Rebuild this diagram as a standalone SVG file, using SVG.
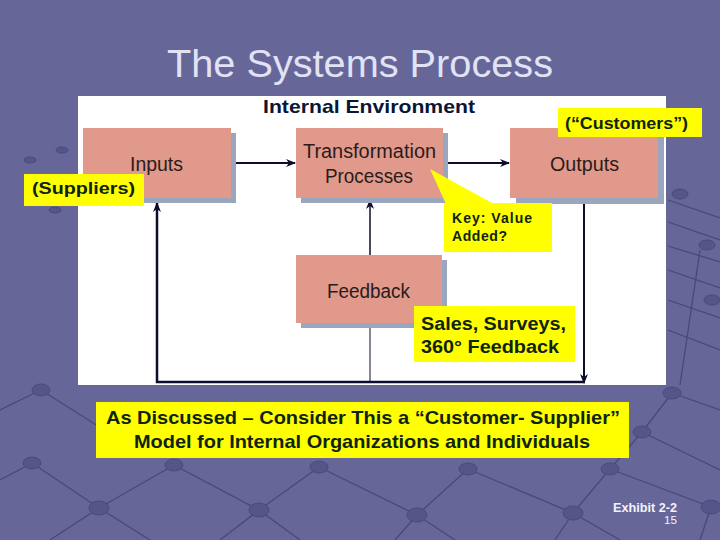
<svg xmlns="http://www.w3.org/2000/svg" width="720" height="540" viewBox="0 0 720 540">
<defs>
<style>
.bg{fill:#666699}
.deco line{stroke:#48487a;stroke-width:1.3}
.deco ellipse{fill:#55558a;stroke:#4a4a7c;stroke-width:1}
.shadow{fill:#9aa6bd}
.box{fill:#e0998b}
.btxt{font-family:"Liberation Sans Narrow","Liberation Sans",Arial,sans-serif;font-size:20px;fill:#2a1c1c;text-anchor:start}
.call{fill:#ffff00}
.ctxt{font-family:"Liberation Sans",Arial,sans-serif;font-weight:bold;fill:#0e2410}
.conn{stroke:#0c0c2c;fill:none}
</style>
<marker id="ah" viewBox="0 0 10 8" refX="9" refY="4" markerWidth="10" markerHeight="8" markerUnits="userSpaceOnUse" orient="auto">
<path d="M0,0 L10,4 L0,8 L3,4 z" fill="#0c0c2c"/>
</marker>
</defs>
<rect class="bg" x="0" y="0" width="720" height="540"/>
<g class="deco">
<line x1="0" y1="410" x2="41" y2="390"/>
<line x1="41" y1="390" x2="120" y2="440"/>
<line x1="0" y1="480" x2="32" y2="463"/>
<line x1="32" y1="463" x2="99" y2="508"/>
<line x1="99" y1="508" x2="174" y2="465"/>
<line x1="174" y1="465" x2="259" y2="510"/>
<line x1="259" y1="510" x2="319" y2="467"/>
<line x1="319" y1="467" x2="417" y2="515"/>
<line x1="417" y1="515" x2="468" y2="469"/>
<line x1="468" y1="469" x2="573" y2="513"/>
<line x1="573" y1="513" x2="610" y2="469"/>
<line x1="610" y1="469" x2="711" y2="507"/>
<line x1="99" y1="508" x2="50" y2="540"/>
<line x1="99" y1="508" x2="150" y2="540"/>
<line x1="259" y1="510" x2="220" y2="540"/>
<line x1="259" y1="510" x2="300" y2="540"/>
<line x1="417" y1="515" x2="395" y2="540"/>
<line x1="417" y1="515" x2="455" y2="540"/>
<line x1="573" y1="513" x2="555" y2="540"/>
<line x1="573" y1="513" x2="620" y2="540"/>
<line x1="711" y1="507" x2="700" y2="540"/>
<line x1="610" y1="469" x2="642" y2="432"/>
<line x1="642" y1="432" x2="720" y2="470"/>
<line x1="642" y1="432" x2="672" y2="393"/>
<line x1="672" y1="393" x2="720" y2="410"/>
<line x1="668" y1="200" x2="720" y2="218"/>
<line x1="668" y1="222" x2="720" y2="240"/>
<line x1="668" y1="246" x2="720" y2="262"/>
<line x1="668" y1="270" x2="720" y2="288"/>
<line x1="668" y1="300" x2="720" y2="318"/>
<line x1="668" y1="330" x2="720" y2="350"/>
<line x1="700" y1="250" x2="680" y2="385"/>
<ellipse cx="41" cy="390" rx="9" ry="6"/>
<ellipse cx="32" cy="463" rx="9" ry="6"/>
<ellipse cx="99" cy="508" rx="10" ry="7"/>
<ellipse cx="174" cy="465" rx="9" ry="6"/>
<ellipse cx="259" cy="510" rx="10" ry="7"/>
<ellipse cx="319" cy="467" rx="9" ry="6"/>
<ellipse cx="417" cy="515" rx="10" ry="7"/>
<ellipse cx="468" cy="469" rx="9" ry="6"/>
<ellipse cx="573" cy="513" rx="10" ry="7"/>
<ellipse cx="610" cy="469" rx="9" ry="6"/>
<ellipse cx="711" cy="507" rx="10" ry="7"/>
<ellipse cx="642" cy="432" rx="9" ry="6"/>
<ellipse cx="672" cy="393" rx="9" ry="6"/>
<ellipse cx="680" cy="194" rx="8" ry="5"/>
<ellipse cx="707" cy="245" rx="8" ry="5"/>
<ellipse cx="712" cy="300" rx="8" ry="5"/>
<ellipse cx="62" cy="150" rx="6" ry="3"/>
<ellipse cx="30" cy="160" rx="6" ry="3"/>
<ellipse cx="55" cy="210" rx="6" ry="3"/>
</g>
<text x="360" y="77" font-family="'Liberation Sans',Arial,sans-serif" font-size="38" fill="#e2e2f5" text-anchor="middle" textLength="386" lengthAdjust="spacingAndGlyphs">The Systems Process</text>
<rect x="78" y="96" width="588" height="289" fill="#ffffff"/>
<text x="263" y="113" font-family="'Liberation Sans Narrow','Liberation Sans',Arial,sans-serif" font-weight="bold" font-size="19" fill="#0a1634" textLength="212" lengthAdjust="spacingAndGlyphs">Internal Environment</text>
<g id="connectors">
<path class="conn" d="M231,163 H295" stroke-width="2" marker-end="url(#ah)"/>
<path class="conn" d="M443,163 H509" stroke-width="2" marker-end="url(#ah)"/>
<path class="conn" d="M584,198 V383" stroke-width="2" marker-end="url(#ah)"/>
<path class="conn" d="M585,382 H157 V203" stroke-width="2.5" marker-end="url(#ah)"/>
<path class="conn" d="M370,382 V323" stroke-width="1"/>
<path class="conn" d="M370,255 V200" stroke-width="1.5" marker-end="url(#ah)"/>
</g>
<g id="inputs">
<rect class="shadow" x="88" y="133" width="148" height="70"/>
<rect class="box" x="83" y="128" width="148" height="70"/>
<text class="btxt" x="130" y="171" textLength="53" lengthAdjust="spacingAndGlyphs">Inputs</text>
</g>
<g id="transformation">
<rect class="shadow" x="301" y="133" width="147" height="70"/>
<rect class="box" x="296" y="128" width="147" height="70"/>
<text class="btxt" x="303" y="158" textLength="133" lengthAdjust="spacingAndGlyphs">Transformation</text>
<text class="btxt" x="325" y="183" textLength="88" lengthAdjust="spacingAndGlyphs">Processes</text>
</g>
<g id="outputs">
<rect class="shadow" x="516" y="134" width="148" height="70"/>
<rect class="box" x="510" y="128" width="148" height="70"/>
<text class="btxt" x="550" y="171" textLength="69" lengthAdjust="spacingAndGlyphs">Outputs</text>
</g>
<g id="feedback">
<rect class="shadow" x="301" y="260" width="146" height="68"/>
<rect class="box" x="296" y="255" width="146" height="68"/>
<text class="btxt" x="327" y="298" textLength="83" lengthAdjust="spacingAndGlyphs">Feedback</text>
</g>
<g id="suppliers">
<rect class="call" x="24" y="174" width="120" height="32"/>
<text class="ctxt" x="32" y="194" font-size="17" textLength="103" lengthAdjust="spacingAndGlyphs">(Suppliers)</text>
</g>
<g id="customers">
<rect class="call" x="558" y="108" width="144" height="29"/>
<text class="ctxt" x="565" y="129" font-size="16" textLength="123" lengthAdjust="spacingAndGlyphs">(“Customers”)</text>
</g>
<g id="key-value">
<polygon class="call" points="430,169 446,204 494,204"/>
<rect class="call" x="444" y="203" width="108" height="49"/>
<text class="ctxt" x="452" y="223" font-size="14" textLength="80" lengthAdjust="spacing">Key: Value</text>
<text class="ctxt" x="452" y="241" font-size="14" textLength="55" lengthAdjust="spacing">Added?</text>
</g>
<g id="sales">
<rect class="call" x="414" y="306" width="161" height="56"/>
<text class="ctxt" x="421" y="330" font-size="18" textLength="145" lengthAdjust="spacingAndGlyphs">Sales, Surveys,</text>
<text class="ctxt" x="421" y="353" font-size="18" textLength="138" lengthAdjust="spacingAndGlyphs">360° Feedback</text>
</g>
<g id="discussed">
<rect class="call" x="96" y="402" width="533" height="56"/>
<text class="ctxt" x="106" y="424" font-size="19" textLength="514" lengthAdjust="spacingAndGlyphs">As Discussed – Consider This a “Customer- Supplier”</text>
<text class="ctxt" x="134" y="448" font-size="19" textLength="456" lengthAdjust="spacingAndGlyphs">Model for Internal Organizations and Individuals</text>
</g>
<text x="613" y="512" font-family="'Liberation Sans Narrow','Liberation Sans',Arial,sans-serif" font-weight="bold" font-size="13" fill="#f2f2fa" textLength="64" lengthAdjust="spacingAndGlyphs">Exhibit 2-2</text>
<text x="664" y="524" font-family="'Liberation Sans Narrow','Liberation Sans',Arial,sans-serif" font-size="11" fill="#f2f2fa" textLength="13" lengthAdjust="spacingAndGlyphs">15</text>
</svg>
